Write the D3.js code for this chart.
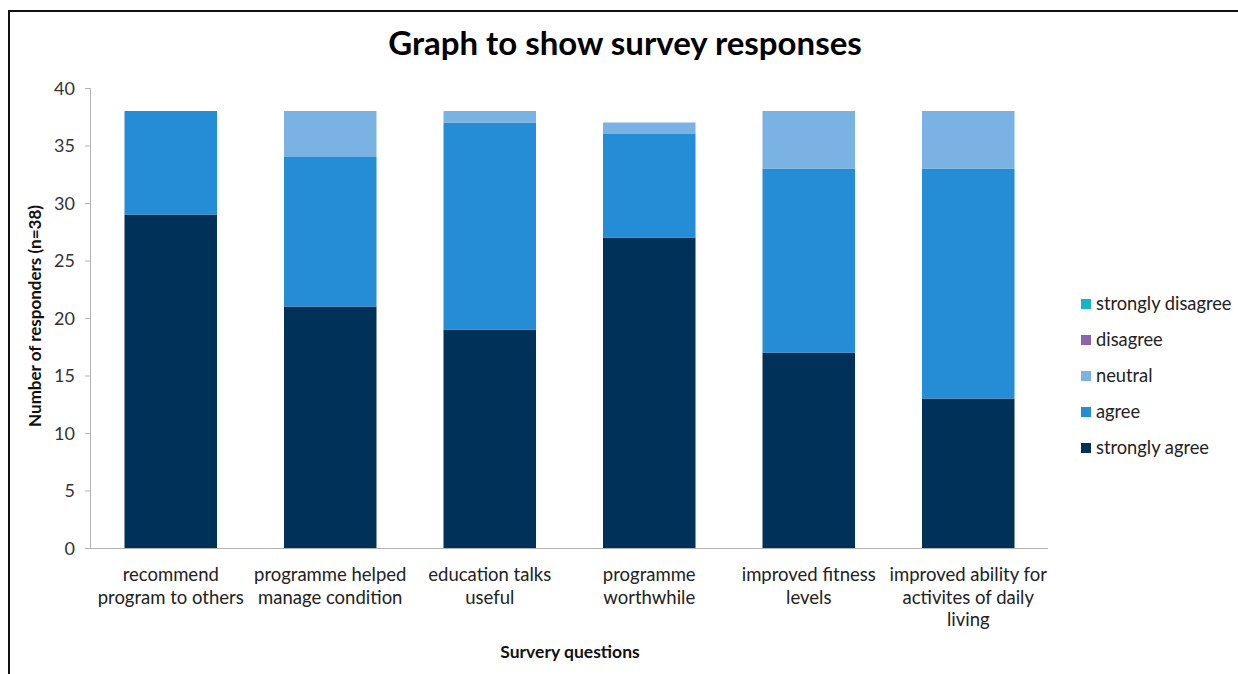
<!DOCTYPE html>
<html>
<head>
<meta charset="utf-8">
<script src="https://cdn.jsdelivr.net/npm/d3@7"></script>
<style>
  body { margin: 0; background: #fff; }
  text { font-family: Lato, "Open Sans", sans-serif; fill: #222; }
</style>
</head>
<body>
<script>
'use strict';

// categories (label lines) and series values
const questions = [
  ['recommend', 'program to others'],
  ['programme helped', 'manage condition'],
  ['education talks', 'useful'],
  ['programme', 'worthwhile'],
  ['improved fitness', 'levels'],
  ['improved ability for', 'activites of daily', 'living']
];
const stronglyAgree = [29, 21, 19, 27, 17, 13];
const agree = [9, 13, 18, 9, 16, 20];
const neutral = [0, 4, 1, 1, 5, 5];
const disagree = [0, 0, 0, 0, 0, 0];
const stronglyDisagree = [0, 0, 0, 0, 0, 0];
const seriesNames = ['strongly agree', 'agree', 'neutral', 'disagree', 'strongly disagree'];
const seriesColors = ['#003259', '#258cd6', '#7ab3e3', '#8b64b0', '#17b3c8'];
const yTicks = [0, 5, 10, 15, 20, 25, 30, 35, 40];

(function() {
  const W = 1238, H = 674;
  const svg = d3.select('body').append('svg')
    .attr('width', W)
    .attr('height', H);

  // frame
  svg.append('rect')
    .attr('x', 9).attr('y', 11)
    .attr('width', W + 10).attr('height', H + 10)
    .attr('fill', 'none')
    .attr('stroke', '#111')
    .attr('stroke-width', 2);

  // build rows for stacking
  const vals = [stronglyAgree, agree, neutral, disagree, stronglyDisagree];
  const rows = questions.map((q, i) => {
    let r = { idx: i };
    seriesNames.forEach((s, k) => r[s] = vals[k][i]);
    return r;
  });
  const stacked = d3.stack().keys(seriesNames)(rows);

  const x = d3.scaleBand()
    .domain(d3.range(questions.length))
    .range([91, 1048])
    .paddingInner(0.42)
    .paddingOuter(0.21);
  const y = d3.scaleLinear()
    .domain([0, 40])
    .range([548, 88]);

  const color = d3.scaleOrdinal().domain(seriesNames).range(seriesColors);

  // title
  svg.append('text')
    .attr('x', 625).attr('y', 55)
    .attr('text-anchor', 'middle')
    .style('font-size', '33px')
    .style('font-weight', 'bold')
    .style('fill', '#000')
    .text('Graph to show survey responses');

  // bars
  svg.selectAll('.series')
    .data(stacked)
    .enter()
    .append('g')
    .attr('fill', (d) => color(d.key))
    .selectAll('rect')
    .data((d) => d)
    .enter()
    .append('rect')
      .attr('x', (d) => x(d.data.idx))
      .attr('y', (d) => y(d[1]))
      .attr('width', x.bandwidth())
      .attr('height', (d) => y(d[0]) - y(d[1]));

  // y axis
  const yAxis = d3.axisLeft(y).tickValues(yTicks).tickSize(5).tickPadding(10);
  const gy = svg.append('g')
    .attr('transform', 'translate(90,0)')
    .call(yAxis);
  gy.select('.domain').attr('stroke', '#b3b3b3');
  gy.selectAll('.tick line').attr('stroke', '#b3b3b3');
  gy.selectAll('.tick text')
    .style('font-size', '18px')
    .style('fill', '#333')
    .attr('dy', '0.35em');

  // x axis line
  const xAxis = d3.axisBottom(x).tickSize(0).tickFormat('');
  const gx = svg.append('g')
    .attr('transform', 'translate(0,548)')
    .call(xAxis);
  gx.select('.domain').attr('stroke', '#b3b3b3').attr('d', 'M90,0.5H1048');

  // category labels
  questions.forEach((lines, i) => {
    const t = svg.append('text')
      .attr('text-anchor', 'middle')
      .style('font-size', '18.5px')
      .style('fill', '#222');
    lines.forEach((ln, j) => {
      t.append('tspan')
        .attr('x', x(i) + x.bandwidth() / 2)
        .attr('y', 581 + j * 22.5)
        .text(ln);
    });
  });

  // axis titles
  svg.append('text')
    .attr('transform', 'translate(41,316)rotate(-90)')
    .attr('text-anchor', 'middle')
    .style('font-size', '17px')
    .style('font-weight', 'bold')
    .style('fill', '#111')
    .text('Number of responders (n=38)');

  svg.append('text')
    .attr('x', 570).attr('y', 658)
    .attr('text-anchor', 'middle')
    .style('font-size', '17.5px')
    .style('font-weight', 'bold')
    .style('fill', '#111')
    .text('Survery questions');

  // legend
  const legend = svg.selectAll('.legend')
    .data(seriesNames.slice().reverse())
    .enter()
    .append('g')
    .attr('class', 'legend')
    .attr('transform', (d, i) => 'translate(1081,' + (304 + i * 36) + ')');
  legend.append('rect')
    .attr('x', 0).attr('y', -5)
    .attr('width', 10).attr('height', 10)
    .attr('fill', color);
  legend.append('text')
    .attr('x', 15).attr('y', 0)
    .attr('dy', '0.35em')
    .style('font-size', '18.3px')
    .style('fill', '#222')
    .text((d) => d);
})();
</script>
</body>
</html>
